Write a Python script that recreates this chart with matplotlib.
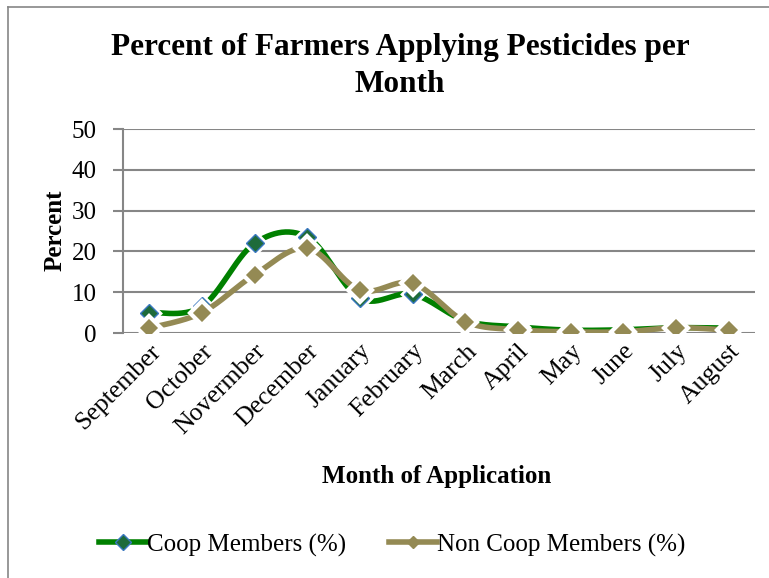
import numpy as np
import matplotlib
matplotlib.use("Agg")
import matplotlib.pyplot as plt
from matplotlib.lines import Line2D

months = ["September", "October", "Novermber", "December", "January", "February",
          "March", "April", "May", "June", "July", "August"]
coop = [5, 6.5, 22, 23.5, 8.5, 9.5, 3, 1.5, 0.7, 0.8, 1.3, 1.2]
non_coop = [1.2, 5, 14.3, 20.8, 10.5, 12.2, 2.8, 0.8, 0.3, 0.3, 1.3, 0.7]

plt.rcParams['font.family'] = ['Liberation Serif', 'DejaVu Serif']


def smooth(x, y, n=30):
    # Catmull-Rom curve through points, like Excel's smoothed line
    x = np.asarray(x, float)
    y = np.asarray(y, float)
    px = np.concatenate([[x[0]], x, [x[-1]]])
    py = np.concatenate([[y[0]], y, [y[-1]]])
    xs, ys = [], []
    t = np.linspace(0, 1, n)
    for i in range(1, len(px) - 2):
        p0, p1, p2, p3 = [np.array([px[j], py[j]]) for j in (i - 1, i, i + 1, i + 2)]
        c1 = p1 + (p2 - p0) / 6
        c2 = p2 - (p3 - p1) / 6
        b = ((1 - t) ** 3)[:, None] * p1 + (3 * (1 - t) ** 2 * t)[:, None] * c1 \
            + (3 * (1 - t) * t ** 2)[:, None] * c2 + (t ** 3)[:, None] * p2
        xs.extend(b[:, 0])
        ys.extend(b[:, 1])
    return np.array(xs), np.array(ys)


fig = plt.figure(figsize=(7.69, 5.78), dpi=100)
ax = fig.add_axes([123 / 769, 1 - 333 / 578, (755 - 123) / 769, (333 - 129) / 578])

x = np.arange(len(months))
green = '#008000'
olive = '#948A54'

sx, sy = smooth(x, coop)
ax.plot(sx, sy, color=green, lw=4, solid_capstyle='butt', zorder=3)
ax.plot(x, coop, ls='none', marker='D', ms=11, mfc='#1E6B3A', mec='white', mew=2.5, zorder=4)
ax.plot(x, coop, ls='none', marker='D', ms=9, mfc='#1E6B3A', mec='#3A78C0', mew=1, zorder=4)

sx, sy = smooth(x, non_coop)
ax.plot(sx, sy, color=olive, lw=4, solid_capstyle='butt', zorder=5)
ax.plot(x, non_coop, ls='none', marker='D', ms=12, mfc=olive, mec='white', mew=3, zorder=6)

ax.set_xlim(-0.5, len(months) - 0.5)
ax.set_ylim(0, 50)
ax.set_yticks(range(0, 51, 10))
ax.yaxis.grid(True, color='#868686', lw=1.5)
ax.set_axisbelow(True)
for s in ['top', 'right']:
    ax.spines[s].set_visible(False)
ax.spines['left'].set_color('#868686')
ax.spines['left'].set_linewidth(1.5)
ax.spines['bottom'].set_visible(False)
ax.tick_params(axis='y', length=7, width=1.5, color='#868686', labelsize=18, pad=12)
ax.tick_params(axis='x', length=0, labelsize=18.5, pad=5)
ax.set_xticks(x)
ax.set_xticklabels(months, rotation=45, ha='right', rotation_mode='anchor')

fig.text(55 / 769, 1 - 230 / 578, 'Percent', rotation=90, ha='center', va='center',
         fontsize=18, fontweight='bold')
fig.text(437 / 769, 1 - 476 / 578, 'Month of Application', ha='center', va='center',
         fontsize=18, fontweight='bold')
fig.text(0.52, 1 - 66 / 578, 'Percent of Farmers Applying Pesticides per\nMonth',
         ha='center', va='center', fontsize=22.5, fontweight='bold', linespacing=1.4)

handles = [
    Line2D([], [], color=green, lw=4, marker='D', ms=8, mfc='#1E6B3A', mec='#3A78C0', mew=1),
    Line2D([], [], color=olive, lw=4, marker='D', ms=6, mfc=olive, mec=olive),
]
fig.legend(handles, ['Coop Members (%)', 'Non Coop Members (%)'], loc='center',
           bbox_to_anchor=(0.51, 1 - 545 / 578), ncol=2, frameon=False, fontsize=18,
           handlelength=1.9, handletextpad=0.0, columnspacing=1.75)

# chart border (left and top edges)
fig.add_artist(Line2D([8 / 769, 8 / 769], [0, 1 - 7 / 578], transform=fig.transFigure,
                      color='#868686', lw=1.2))
fig.add_artist(Line2D([8 / 769, 1], [1 - 7 / 578, 1 - 7 / 578], transform=fig.transFigure,
                      color='#868686', lw=1.2))

fig.savefig('out.png', dpi=100)
